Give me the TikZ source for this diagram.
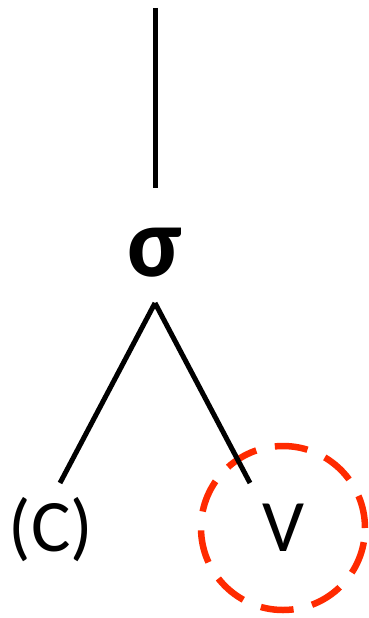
\documentclass[tikz,border=0pt]{standalone}
\usepackage{fontspec}
\setmainfont{Carlito}
\definecolor{ringred}{RGB}{255,42,0}
\begin{document}
\begin{tikzpicture}[x=1pt,y=-1pt,
  branch/.style={line width=5pt, black},
  lbl/.style={inner sep=0pt, anchor=base, font=\fontsize{74}{80}\selectfont},
  ring/.style={draw=ringred, line width=6.5pt, circle, inner sep=0pt, minimum size=164pt, dash pattern=on 33pt off 19pt}]
\useasboundingbox (0,0) rectangle (368,618);
\coordinate (top) at (155,8);
\coordinate (stemend) at (155,188);
\node[inner sep=0pt, anchor=base, font=\fontsize{100}{110}\selectfont\bfseries] (sigma) at (155,276) {σ};
\coordinate (apex) at (155,303);
\coordinate (lend) at (60,483);
\coordinate (rend) at (250,483);
\node[lbl] (C) at (51,551) {(C)};
\node[lbl] (V) at (283,551) {V};
\node[ring] (circ) at (283,528) {};
\draw[branch] (top) -- (stemend);
\draw[branch] (apex) -- (lend);
\draw[branch] (apex) -- (rend);
\end{tikzpicture}
\end{document}
